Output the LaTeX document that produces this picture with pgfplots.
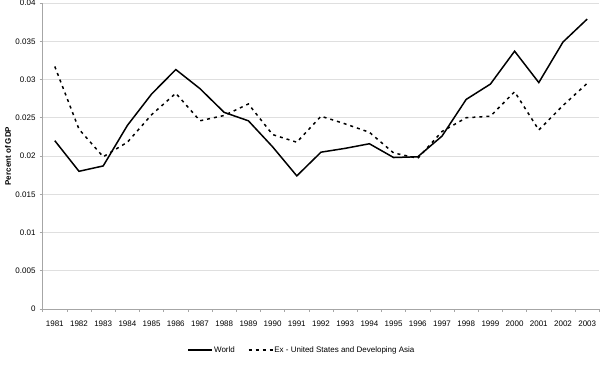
\documentclass[border=0pt]{standalone}
\usepackage{fontspec}
\setmainfont{Liberation Sans}
\usepackage{pgfplots}
\pgfplotsset{compat=1.18}
\begin{document}
\begin{tikzpicture}
\useasboundingbox (-42.7pt,-60pt) rectangle (557.3pt,309pt);
\begin{axis}[
  name=ax,
  at={(0,0)}, anchor=south west,
  scale only axis, width=556.6pt, height=306pt,
  xmin=-0.5, xmax=22.5, ymin=0, ymax=0.04,
  axis x line*=bottom, axis y line*=left,
  axis line style={draw=gray!70, line width=0.6pt},
  xtick={0,...,22},
  xticklabels={1981,1982,1983,1984,1985,1986,1987,1988,1989,1990,1991,1992,1993,1994,1995,1996,1997,1998,1999,2000,2001,2002,2003},
  major x tick style={draw=none},
  minor xtick={-0.5,0.5,...,22.5},
  minor tick length=3pt,
  minor x tick style={draw=gray!70, line width=0.5pt},
  tick align=outside,
  ytick={0,0.005,0.01,0.015,0.02,0.025,0.03,0.035,0.04},
  yticklabels={0,0.005,0.01,0.015,0.02,0.025,0.03,0.035,0.04},
  scaled y ticks=false,
  major tick length=3pt,
  major y tick style={draw=gray!70, line width=0.5pt},
  ymajorgrids, grid style={draw=gray!25, line width=0.6pt},
  tick label style={font=\fontsize{8}{10}\selectfont, text=black},
  yticklabel style={anchor=east, inner sep=0pt, xshift=-4pt},
  xticklabel style={anchor=north, inner sep=0pt, yshift=-9pt},
  legend style={at={(0.465,-0.134)}, anchor=center, draw=none, legend columns=2,
    font=\fontsize{8}{10}\selectfont, inner sep=0pt,
    /tikz/every even column/.append style={column sep=12pt},
    nodes={inner sep=1pt}},
  legend cell align=left,
  legend image code/.code={\draw[#1] (0pt,0pt) -- (24pt,0pt);},
  clip=false,
]
\addplot[black, line width=1.5pt] coordinates {
(0,0.0220) (1,0.0180) (2,0.0187) (3,0.0240) (4,0.0281) (5,0.0313) (6,0.0288) (7,0.0257) (8,0.0246) (9,0.0212) (10,0.0174) (11,0.0205) (12,0.0210) (13,0.0216) (14,0.0198) (15,0.0199) (16,0.0226) (17,0.0274) (18,0.0294) (19,0.0337) (20,0.0296) (21,0.0349) (22,0.0379)
};
\addlegendentry{World}
\addplot[black, line width=1.5pt, dash pattern=on 3pt off 4pt] coordinates {
(0,0.0317) (1,0.0235) (2,0.0199) (3,0.0218) (4,0.0254) (5,0.0282) (6,0.0246) (7,0.0253) (8,0.0268) (9,0.0228) (10,0.0218) (11,0.0252) (12,0.0242) (13,0.0231) (14,0.0204) (15,0.0197) (16,0.0232) (17,0.0250) (18,0.0252) (19,0.0284) (20,0.0234) (21,0.0266) (22,0.0295)
};
\addlegendentry{Ex - United States and Developing Asia}
\end{axis}
\node[rotate=90, font=\fontsize{8}{10}\selectfont\bfseries, anchor=center, inner sep=0pt] at ([xshift=-34.7pt]ax.west) {Percent of GDP};
\end{tikzpicture}
\end{document}
